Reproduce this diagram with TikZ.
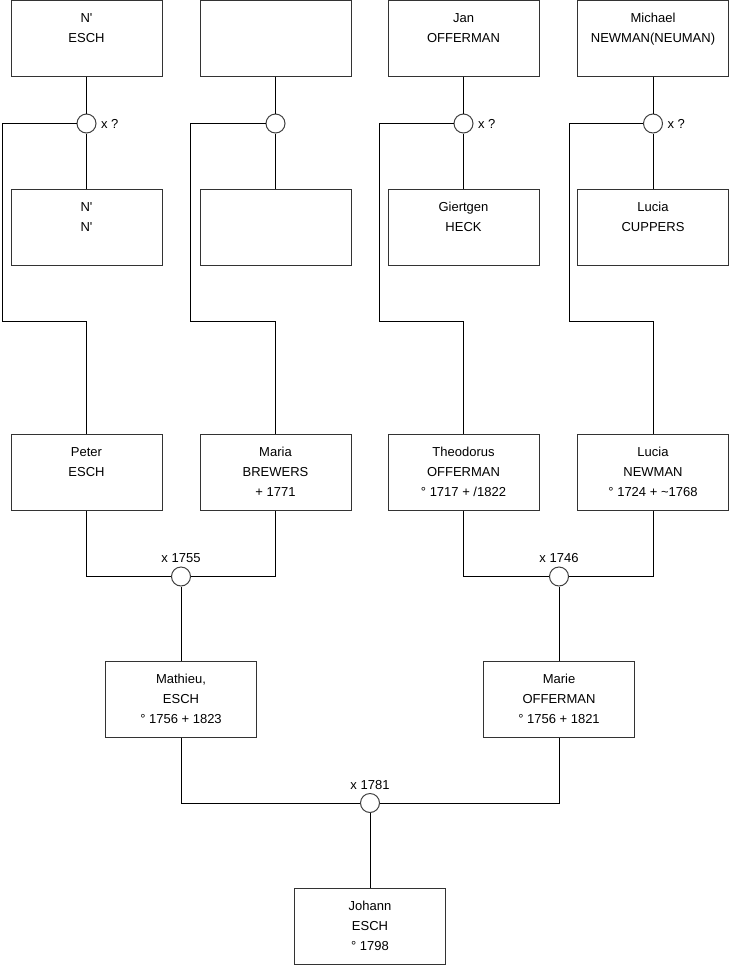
\documentclass[tikz,border=0pt]{standalone}
\usepackage{fontspec}
\setmainfont{Liberation Sans}
\usetikzlibrary{positioning}

% three lines of a person box, each with a strut
\newcommand\who[3]{\strut#1\\\strut#2\\\strut#3}

\begin{document}
\begin{tikzpicture}[
    x=1pt, y=-1pt, line width=1pt,
    person/.style={draw=black!80, minimum width=151, minimum height=76,
                   inner sep=0, align=center,
                   font=\fontsize{13}{20}\selectfont},
    couple/.style={circle, draw=black!75, fill=white, minimum size=19, inner sep=0},
    lbl/.style={font=\fontsize{13}{16}\selectfont, inner sep=1pt},
]
\useasboundingbox (0,0) rectangle (740,975);

\def\xA{86.5}    % column centres
\def\xB{275.5}
\def\xC{463.5}
\def\xD{653}
\def\xL{181}     % Mathieu
\def\xR{559}     % Marie
\def\xM{370}     % Johann

% --- row heights (pixels, downwards) ---
\def\yTop{38}
\def\yRing{123.5}
\def\ySec{227.5}
\def\yBend{321}
\def\yPar{472.5}
\def\yWed{576.5}
\def\yKid{699.5}
\def\yLast{803}
\def\yJoh{926}

% top row
\node[person] (nEsch)    at (\xA,\yTop) {\who{N\textquotesingle}{ESCH}{}};
\node[person] (blankF)   at (\xB,\yTop) {\who{}{}{}};
\node[person] (janO)     at (\xC,\yTop) {\who{Jan}{OFFERMAN}{}};
\node[person] (michaelN) at (\xD,\yTop) {\who{Michael}{NEWMAN(NEUMAN)}{}};

% marriage rings of the top row
\node[couple] (m1) at (\xA,\yRing) {};
\node[couple] (m2) at (\xB,\yRing) {};
\node[couple] (m3) at (\xC,\yRing) {};
\node[couple] (m4) at (\xD,\yRing) {};
\node[lbl, right=3pt of m1] (q1) {x ?};
\node[lbl, right=3pt of m3] (q3) {x ?};
\node[lbl, right=3pt of m4] (q4) {x ?};

% wives
\node[person] (nN)       at (\xA,\ySec) {\who{N\textquotesingle}{N\textquotesingle}{}};
\node[person] (blankM)   at (\xB,\ySec) {\who{}{}{}};
\node[person] (giertgen) at (\xC,\ySec) {\who{Giertgen}{HECK}{}};
\node[person] (luciaC)   at (\xD,\ySec) {\who{Lucia}{CUPPERS}{}};

% bends of the child lines
\coordinate (k1) at (2,\yBend);
\coordinate (k2) at (190,\yBend);
\coordinate (k3) at (379,\yBend);
\coordinate (k4) at (569,\yBend);

% grandparents
\node[person] (peter)     at (\xA,\yPar) {\who{Peter}{ESCH}{}};
\node[person] (maria)     at (\xB,\yPar) {\who{Maria}{BREWERS}{+ 1771}};
\node[person] (theodorus) at (\xC,\yPar) {\who{Theodorus}{OFFERMAN}{° 1717 + /1822}};
\node[person] (luciaN)    at (\xD,\yPar) {\who{Lucia}{NEWMAN}{° 1724 + \textasciitilde1768}};

\node[couple] (mar1) at (\xL,\yWed) {};
\node[couple] (mar2) at (\xR,\yWed) {};
\node[lbl, above=2pt of mar1] (y1) {x 1755};
\node[lbl, above=2pt of mar2] (y2) {x 1746};

% parents
\node[person] (mathieu) at (\xL,\yKid) {\who{Mathieu,}{ESCH}{° 1756 + 1823}};
\node[person] (marie)   at (\xR,\yKid) {\who{Marie}{OFFERMAN}{° 1756 + 1821}};

\node[couple] (mar3) at (\xM,\yLast) {};
\node[lbl, above=2pt of mar3] (y3) {x 1781};

\node[person] (johann) at (\xM,\yJoh) {\who{Johann}{ESCH}{° 1798}};

% husband -- ring -- wife
\draw (nEsch) -- (m1) -- (nN);
\draw (blankF) -- (m2) -- (blankM);
\draw (janO) -- (m3) -- (giertgen);
\draw (michaelN) -- (m4) -- (luciaC);

% ring to child
\draw (m1) -| (k1) -| (peter);
\draw (m2) -| (k2) -| (maria);
\draw (m3) -| (k3) -| (theodorus);
\draw (m4) -| (k4) -| (luciaN);

% couples below
\draw (peter) |- (mar1);
\draw (maria) |- (mar1);
\draw (mar1) -- (mathieu);
\draw (theodorus) |- (mar2);
\draw (luciaN) |- (mar2);
\draw (mar2) -- (marie);
\draw (mathieu) |- (mar3);
\draw (marie) |- (mar3);
\draw (mar3) -- (johann);
\end{tikzpicture}
\end{document}
